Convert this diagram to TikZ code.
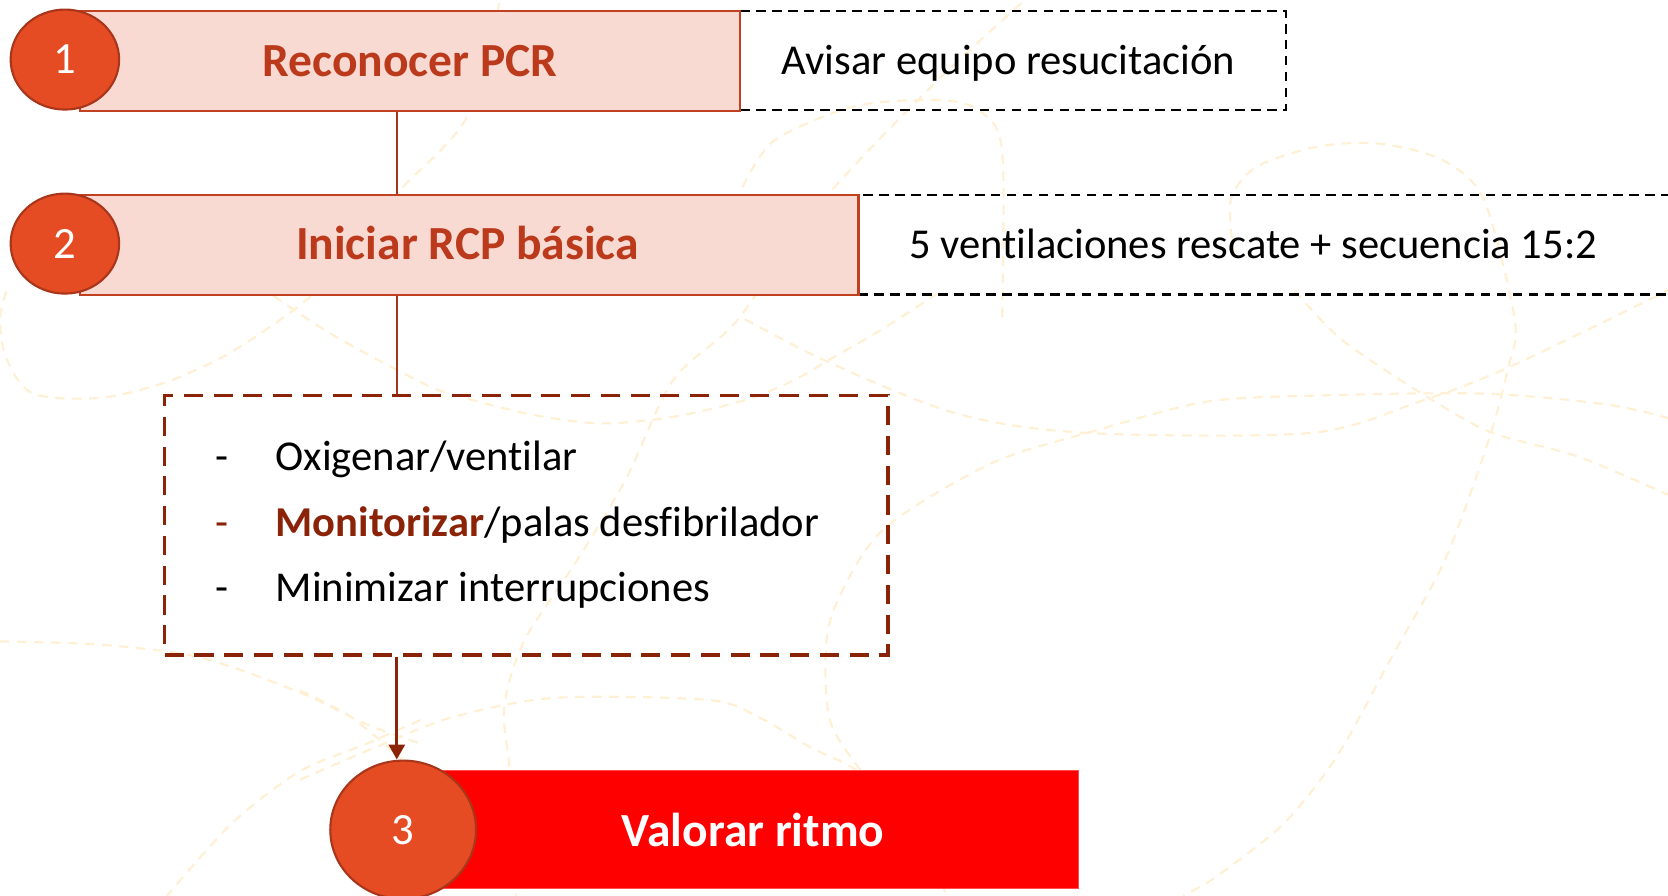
\documentclass[tikz,border=0pt]{standalone}
\usepackage{fontspec}
\setmainfont{Carlito}[Ligatures=NoCommon]
\usetikzlibrary{shapes.geometric,arrows.meta}
\definecolor{numfill}{HTML}{E64C24}
\definecolor{numdraw}{HTML}{A9361A}
\definecolor{boxfill}{HTML}{F9DAD3}
\definecolor{boxdraw}{HTML}{C1401F}
\definecolor{titlecol}{HTML}{BB3A1C}
\definecolor{darkred}{HTML}{8B2309}
\definecolor{linkcol}{HTML}{A3361B}
\definecolor{bgcol}{HTML}{FFF0D4}
\definecolor{redfill}{HTML}{FF0000}
\begin{document}
\begin{tikzpicture}[x=1pt,y=-1pt,
  bgline/.style={draw=bgcol, line width=2pt, dash pattern=on 9pt off 7pt},
  pinkbox/.style={rectangle, draw=boxdraw, fill=boxfill, line width=2pt, inner sep=0pt, anchor=north west},
  notebox/.style={rectangle, draw=black, line width=2pt, dash pattern=on 9pt off 6pt, inner sep=0pt, anchor=north west},
  listbox/.style={rectangle, draw=darkred, line width=3.5pt, dash pattern=on 18pt off 10pt, inner sep=0pt, anchor=north west},
  redbox/.style={rectangle, draw=redfill!70!white, fill=redfill, line width=1pt, inner sep=0pt, anchor=north west},
  numell/.style={ellipse, draw=numdraw, fill=numfill, line width=2pt, inner sep=0pt, text=white, font=\fontsize{42}{50}\selectfont},
  title/.style={font=\bfseries\fontsize{44.7}{52}\selectfont, text=titlecol, anchor=base, inner sep=0pt},
  note/.style={font=\fontsize{40}{48}\selectfont, anchor=base, inner sep=0pt},
  item/.style={font=\fontsize{40}{48}\selectfont, anchor=base west, inner sep=0pt},
  link/.style={draw=linkcol, line width=1.5pt},
  arrowlink/.style={draw=darkred, line width=2.5pt, -{Triangle[width=15pt,length=14pt]}}
]
\useasboundingbox (0,0) rectangle (1568,842);
\clip (0,0) rectangle (1568,842);
\fill[white] (0,0) rectangle (1568,842);

% background decoration
\draw[bgline] plot[smooth] coordinates {(6,274)(0,300)(6,337)(31,370)(94,374)(157,359)(219,330)(288,282)(340,230)(374,181)(439,110)(470,0)};
\draw[bgline] plot[smooth] coordinates {(257,278)(313,315)(395,359)(423,370)(496,389)(564,398)(632,392)(701,376)(747,357)(780,338)(830,309)(881,276)};
\draw[bgline] plot[smooth] coordinates {(960,3)(879,78)(774,188)(693,301)(633,357)(588,451)(541,529)(493,602)(474,664)(479,724)(485,842)};
\draw[bgline] plot[smooth] coordinates {(809,724)(781,680)(776,620)(785,570)(830,498)(931,436)(1022,407)(1132,378)(1232,372)(1393,370)(1509,380)(1568,393)};
\draw[bgline] plot[smooth] coordinates {(700,300)(780,341)(900,389)(1022,407)(1232,407)(1333,378)(1419,345)(1568,273)};
\draw[bgline] plot[smooth] coordinates {(1217,273)(1262,320)(1343,374)(1403,407)(1483,429)(1568,465)};
\draw[bgline] plot[smooth] coordinates {(1160,240)(1157,188)(1181,157)(1238,138)(1296,135)(1355,150)(1395,188)(1424,301)(1418,345)(1398,418)(1358,527)(1308,618)(1258,709)(1207,774)(1142,825)(1112,842)};
\draw[bgline] plot[smooth] coordinates {(698,176)(728,132)(803,100)(879,94)(919,103)(942,141)(942,301)};
\draw[bgline] plot[smooth] coordinates {(0,603)(94,606)(188,618)(282,651)(345,681)(395,699)};
\draw[bgline] plot[smooth] coordinates {(395,677)(345,699)(282,725)(219,773)(157,842)};
\draw[bgline] plot[smooth] coordinates {(282,733)(354,702)(426,674)(522,656)(666,658)(713,674)(761,702)(809,727)(860,780)(890,842)};
\draw[bgline] plot[smooth] coordinates {(282,649)(330,674)(378,714)};

% note boxes
\node[notebox, minimum width=513pt, minimum height=93pt] (note1) at (695,9.5) {};
\node[notebox, minimum width=800pt, minimum height=93.5pt] (note2) at (806,182.3) {};

% step boxes
\node[pinkbox, minimum width=621pt, minimum height=94pt] (box1) at (74,9) {};
\node[pinkbox, minimum width=732pt, minimum height=94pt] (box2) at (74,182) {};

% connectors
\coordinate (spine) at (373,0);
\draw[link] (box1.south -| spine) -- (box2.north -| spine);

% number ellipses 1,2
\node[numell, minimum width=102pt, minimum height=94pt] (c1) at (61,56) {1};
\node[numell, minimum width=102pt, minimum height=94pt] (c2) at (61,229) {2};

% list box
\node[listbox, minimum width=680pt, minimum height=244pt] (list) at (153,370) {};
\draw[link] (box2.south -| spine) -- (list.north -| spine);

% step 3
\node[redbox, minimum width=602pt, minimum height=111pt] (box3) at (411,724) {};
\node[numell, minimum width=137pt, minimum height=130pt] (c3) at (379,780) {3};
\draw[arrowlink] (list.south -| spine) -- (c3.north -| spine);

% texts
\node[title] (t1) at (385.5,71.5) {Reconocer PCR};
\node[title] (t2) at (439.5,244.4) {Iniciar RCP básica};
\node[note] (n1) at (948,69.6) {Avisar equipo resucitación};
\node[note] (n2) at (1178,242.8) {5 ventilaciones rescate + secuencia 15:2};

\node[item] (d1) at (202,442.4) {-};
\node[item] (i1) at (259,442.4) {Oxigenar/ventilar};
\node[item, text=darkred] (d2) at (202,503.9) {-};
\node[item] (i2) at (259,503.9) {\textcolor{darkred}{\bfseries Monitorizar}/palas desfibrilador};
\node[item] (d3) at (202,565.6) {-};
\node[item] (i3) at (259,565.6) {Minimizar interrupciones};

\node[title, text=white] (t3) at (708,795.3) {Valorar ritmo};
\end{tikzpicture}
\end{document}
